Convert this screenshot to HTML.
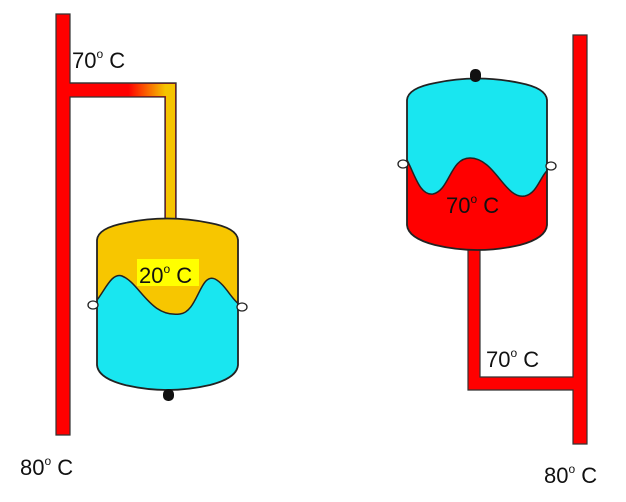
<!DOCTYPE html>
<html><head><meta charset="utf-8"><style>
html,body{margin:0;padding:0;background:#fff;}
svg{display:block;}
text{font-family:"Liberation Sans",sans-serif;fill:#111;font-size:22px;}
</style></head><body>
<svg width="626" height="502" viewBox="0 0 626 502" xmlns="http://www.w3.org/2000/svg">
<defs>
<linearGradient id="g1" x1="70" x2="176" y1="0" y2="0" gradientUnits="userSpaceOnUse">
<stop offset="0.55" stop-color="#ff0000"/><stop offset="0.9" stop-color="#f5c400"/>
</linearGradient>
<clipPath id="tankL"><path d="M97,240 Q98,228 125,223 Q167,214 210,223 Q237,228 238,240 L238,365 Q237,378 210,385 Q167,395 125,385 Q98,378 97,365 Z"/></clipPath>
<clipPath id="tankR"><path d="M407,100 Q408,88 435,83 Q477,74 520,83 Q546,88 547,100 L547,225 Q546,238 520,245 Q477,255 435,245 Q408,238 407,225 Z"/></clipPath>
</defs>
<!-- LEFT -->
<path d="M56,14 H70 V83 H176 V222 H165 V97 H70 V435 H56 Z" fill="#ff0000" stroke="#333" stroke-width="1.2"/>
<path d="M70,84 H175 V221 H166 V96 H70 Z" fill="url(#g1)"/>
<path d="M165,97 V221" stroke="#333" stroke-width="1.2"/>
<path d="M70,83 H176 V222" fill="none" stroke="#333" stroke-width="1.2"/>
<g clip-path="url(#tankL)">
<rect x="90" y="200" width="160" height="210" fill="#f7c600"/>
<path d="M90,310 L97,300 C105,290 112,272 122,276 C140,283 150,318 180,314 C198,312 200,272 215,279 C225,284 232,300 240,305 L240,410 L90,410 Z" fill="#19e6f0" stroke="#222" stroke-width="1.5"/>
</g>
<path d="M97,240 Q98,228 125,223 Q167,214 210,223 Q237,228 238,240 L238,365 Q237,378 210,385 Q167,395 125,385 Q98,378 97,365 Z" fill="none" stroke="#222" stroke-width="1.8"/>
<ellipse cx="93" cy="305" rx="5" ry="4" fill="#fff" stroke="#222" stroke-width="1.3"/>
<ellipse cx="242" cy="307" rx="5" ry="4" fill="#fff" stroke="#222" stroke-width="1.3"/>
<rect x="163" y="389" width="11" height="12" rx="5" fill="#111"/>
<rect x="137" y="259" width="62" height="27" fill="#ffff00"/>
<text x="139" y="283">20<tspan font-size="12" dy="-10">o</tspan><tspan dy="10"> C</tspan></text>
<text x="72" y="68">70<tspan font-size="12" dy="-10">o</tspan><tspan dy="10"> C</tspan></text>
<text x="20" y="475">80<tspan font-size="12" dy="-10">o</tspan><tspan dy="10"> C</tspan></text>
<!-- RIGHT -->
<path d="M573,35 H587 V444 H573 V390 H468 V245 H480 V377 H573 Z" fill="#ff0000" stroke="#333" stroke-width="1.2"/>
<g clip-path="url(#tankR)">
<rect x="400" y="60" width="160" height="210" fill="#ff0000"/>
<path d="M400,150 L407,160 C415,175 420,196 433,194 C450,190 450,158 470,158 C495,158 505,200 525,196 C538,193 540,175 550,168 L550,60 L400,60 Z" fill="#19e6f0" stroke="#222" stroke-width="1.5"/>
</g>
<path d="M407,100 Q408,88 435,83 Q477,74 520,83 Q546,88 547,100 L547,225 Q546,238 520,245 Q477,255 435,245 Q408,238 407,225 Z" fill="none" stroke="#222" stroke-width="1.8"/>
<ellipse cx="403" cy="164" rx="5" ry="4" fill="#fff" stroke="#222" stroke-width="1.3"/>
<ellipse cx="551" cy="166" rx="5" ry="4" fill="#fff" stroke="#222" stroke-width="1.3"/>
<rect x="470" y="69" width="11" height="13" rx="5" fill="#111"/>
<text x="446" y="213">70<tspan font-size="12" dy="-10">o</tspan><tspan dy="10"> C</tspan></text>
<text x="486" y="367">70<tspan font-size="12" dy="-10">o</tspan><tspan dy="10"> C</tspan></text>
<text x="544" y="483">80<tspan font-size="12" dy="-10">o</tspan><tspan dy="10"> C</tspan></text>
</svg>
</body></html>
